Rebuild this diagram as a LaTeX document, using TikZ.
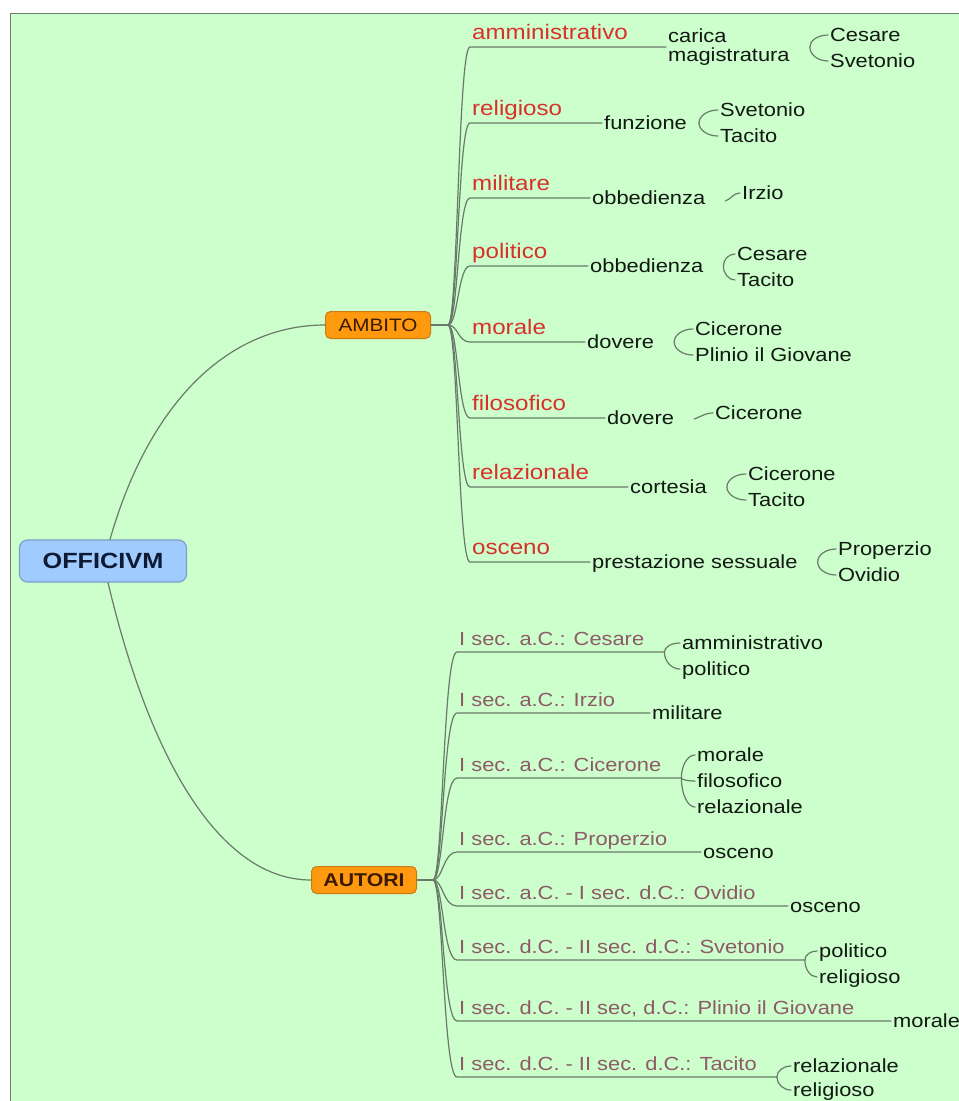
\documentclass[tikz,border=0pt]{standalone}
\usepackage{fontspec}
\usetikzlibrary{calc}
\setmainfont{Liberation Sans}[FakeStretch=1.15]
\definecolor{bgc}{HTML}{CCFFCC}
\definecolor{bordc}{HTML}{6B7F6B}
\definecolor{linec}{HTML}{6A7A6A}
\definecolor{txtc}{HTML}{121812}
\definecolor{redc}{HTML}{D8302A}
\definecolor{autc}{HTML}{8E5A68}
\definecolor{rootf}{HTML}{9FCBFF}
\definecolor{rootd}{HTML}{7F9FC8}
\definecolor{roott}{HTML}{0E1A33}
\definecolor{catf}{HTML}{FF9A10}
\definecolor{catd}{HTML}{CC7A10}
\definecolor{catt}{HTML}{3C1A00}
\newcommand\brk[2]{\draw[conn] (#1) .. controls ($(#1)!0.55!(#1 |- #2)$) and ($(#2)!0.55!(#1 |- #2)$) .. (#2);}
\begin{document}
\begin{tikzpicture}[x=1pt,y=-1pt,
  conn/.style={draw=linec, line width=1.2pt, line cap=round},
  kid/.style={anchor=west, inner xsep=2pt, inner ysep=0pt, text height=13.7pt, text depth=0pt, text=txtc, font=\fontsize{19}{19}\selectfont},
  kidtwo/.style={anchor=west, inner xsep=2pt, inner ysep=0pt, align=left, text=txtc, font=\fontsize{19}{19}\selectfont},
  ambl/.style={anchor=south west, inner xsep=2pt, inner ysep=0pt, text height=15.1pt, text depth=7.5pt, text=redc, font=\fontsize{21}{21}\selectfont},
  autl/.style={anchor=south west, inner xsep=2pt, inner ysep=0pt, text height=13.7pt, text depth=6pt, text=autc, font=\fontsize{19}{19}\selectfont},
  rootbox/.style={rounded corners=8pt, fill=rootf, draw=rootd, line width=1.2pt, minimum width=167pt, minimum height=42pt, inner sep=0pt, text=roott, font=\fontsize{22}{22}\selectfont\bfseries},
  catbox/.style={rounded corners=5pt, fill=catf, draw=catd, line width=1pt, minimum width=105pt, minimum height=27pt, inner sep=0pt, text=catt, font=\fontsize{18}{18}\selectfont}
]
\useasboundingbox (0,0) rectangle (959,1101);
\fill[bgc] (10,13) rectangle (959,1101);
\draw[bordc, line width=1pt] (10.5,1101) -- (10.5,13.5) -- (959,13.5);

% main nodes
\node[rootbox] (root) at (103,561) {OFFICIVM};
\node[catbox] (amb) at (378,325) {AMBITO};
\node[catbox, font=\fontsize{18.5}{18.5}\selectfont\bfseries] (aut) at (364,880) {AUTORI};
\draw[conn] ([xshift=7pt]root.north) .. controls (150,400) and (230,325) .. (amb.west);
\draw[conn] ([xshift=5pt]root.south) .. controls (150,760) and (220,880) .. (aut.west);

% ===== AMBITO =====
\coordinate (ambj) at (448,325);
\draw[conn] (amb.east) -- (ambj);

% 1 amministrativo
\node[ambl] (m1) at (470,47) {amministrativo};
\node[kidtwo] (c1) at (666,47) {carica\\magistratura};
\node[kid] (g11) at (828,35) {Cesare};
\node[kid] (g12) at (828,61) {Svetonio};
\draw[conn] (ambj) .. controls (458,325) and (458,47) .. (m1.south west) -- (c1.west);
\coordinate (b1) at ([xshift=18pt]c1.east);
\brk{b1}{g11.west}
\brk{b1}{g12.west}

% 2 religioso
\node[ambl] (m2) at (470,123) {religioso};
\node[kid] (c2) at (602,123) {funzione};
\node[kid] (g21) at (718,110) {Svetonio};
\node[kid] (g22) at (718,136) {Tacito};
\draw[conn] (ambj) .. controls (458,325) and (458,123) .. (m2.south west) -- (c2.west);
\coordinate (b2) at ([xshift=10pt]c2.east);
\brk{b2}{g21.west}
\brk{b2}{g22.west}

% 3 militare
\node[ambl] (m3) at (470,198) {militare};
\node[kid] (c3) at (590,198) {obbedienza};
\node[kid] (g31) at (740,193) {Irzio};
\draw[conn] (ambj) .. controls (458,325) and (458,198) .. (m3.south west) -- (c3.west);
\coordinate (b3) at ([xshift=18pt,yshift=-3pt]c3.east);
\draw[conn] (b3) to[out=20,in=180] (g31.west);

% 4 politico
\node[ambl] (m4) at (470,266) {politico};
\node[kid] (c4) at (588,266) {obbedienza};
\node[kid] (g41) at (735,254) {Cesare};
\node[kid] (g42) at (735,280) {Tacito};
\draw[conn] (ambj) .. controls (458,325) and (458,266) .. (m4.south west) -- (c4.west);
\coordinate (b4) at ([xshift=18pt]c4.east);
\brk{b4}{g41.west}
\brk{b4}{g42.west}

% 5 morale
\node[ambl] (m5) at (470,342) {morale};
\node[kid] (c5) at (585,342) {dovere};
\node[kid] (g51) at (693,329) {Cicerone};
\node[kid] (g52) at (693,355) {Plinio il Giovane};
\draw[conn] (ambj) .. controls (458,325) and (458,342) .. (m5.south west) -- (c5.west);
\coordinate (b5) at ([xshift=18pt]c5.east);
\brk{b5}{g51.west}
\brk{b5}{g52.west}

% 6 filosofico
\node[ambl] (m6) at (470,418) {filosofico};
\node[kid] (c6) at (605,418) {dovere};
\node[kid] (g61) at (713,413) {Cicerone};
\draw[conn] (ambj) .. controls (458,325) and (458,418) .. (m6.south west) -- (c6.west);
\coordinate (b6) at ([xshift=18pt,yshift=-1pt]c6.east);
\draw[conn] (b6) to[out=20,in=180] (g61.west);

% 7 relazionale
\node[ambl] (m7) at (470,487) {relazionale};
\node[kid] (c7) at (628,487) {cortesia};
\node[kid] (g71) at (746,474) {Cicerone};
\node[kid] (g72) at (746,500) {Tacito};
\draw[conn] (ambj) .. controls (458,325) and (458,487) .. (m7.south west) -- (c7.west);
\coordinate (b7) at ([xshift=18pt]c7.east);
\brk{b7}{g71.west}
\brk{b7}{g72.west}

% 8 osceno
\node[ambl] (m8) at (470,562) {osceno};
\node[kid] (c8) at (590,562) {prestazione sessuale};
\node[kid] (g81) at (836,549) {Properzio};
\node[kid] (g82) at (836,575) {Ovidio};
\draw[conn] (ambj) .. controls (458,325) and (458,562) .. (m8.south west) -- (c8.west);
\coordinate (b8) at ([xshift=18pt]c8.east);
\brk{b8}{g81.west}
\brk{b8}{g82.west}

% ===== AUTORI =====
\coordinate (autj) at (433,880);
\draw[conn] (aut.east) -- (autj);

% 1 Cesare
\node[autl] (a1) at (457,652) {I sec. a.C.: Cesare};
\node[kid] (k11) at (680,643) {amministrativo};
\node[kid] (k12) at (680,669) {politico};
\coordinate (r1) at ([xshift=18pt]a1.south east);
\draw[conn] (autj) .. controls (443,880) and (443,652) .. (a1.south west) -- (r1);
\brk{r1}{k11.west}
\brk{r1}{k12.west}

% 2 Irzio
\node[autl] (a2) at (457,713) {I sec. a.C.: Irzio};
\node[kid] (k21) at (650,713) {militare};
\draw[conn] (autj) .. controls (443,880) and (443,713) .. (a2.south west) -- (k21.west);

% 3 Cicerone
\node[autl] (a3) at (457,778) {I sec. a.C.: Cicerone};
\node[kid] (k31) at (695,755) {morale};
\node[kid] (k32) at (695,781) {filosofico};
\node[kid] (k33) at (695,807) {relazionale};
\coordinate (r3) at ([xshift=18pt]a3.south east);
\draw[conn] (autj) .. controls (443,880) and (443,778) .. (a3.south west) -- (r3);
\brk{r3}{k31.west}
\brk{r3}{k32.west}
\brk{r3}{k33.west}

% 4 Properzio
\node[autl] (a4) at (457,852) {I sec. a.C.: Properzio};
\node[kid] (k41) at (701,852) {osceno};
\draw[conn] (autj) .. controls (443,880) and (443,852) .. (a4.south west) -- (k41.west);

% 5 Ovidio
\node[autl] (a5) at (457,906) {I sec. a.C. - I sec. d.C.: Ovidio};
\node[kid] (k51) at (788,906) {osceno};
\draw[conn] (autj) .. controls (443,880) and (443,906) .. (a5.south west) -- (k51.west);

% 6 Svetonio
\node[autl] (a6) at (457,960) {I sec. d.C. - II sec. d.C.: Svetonio};
\node[kid] (k61) at (817,951) {politico};
\node[kid] (k62) at (817,977) {religioso};
\coordinate (r6) at ([xshift=18pt]a6.south east);
\draw[conn] (autj) .. controls (443,880) and (443,960) .. (a6.south west) -- (r6);
\brk{r6}{k61.west}
\brk{r6}{k62.west}

% 7 Plinio
\node[autl] (a7) at (457,1021) {I sec. d.C. - II sec, d.C.: Plinio il Giovane};
\node[kid] (k71) at (891,1021) {morale};
\draw[conn] (autj) .. controls (443,880) and (443,1021) .. (a7.south west) -- (k71.west);

% 8 Tacito
\node[autl] (a8) at (457,1077) {I sec. d.C. - II sec. d.C.: Tacito};
\node[kid] (k81) at (791,1066) {relazionale};
\node[kid] (k82) at (791,1090) {religioso};
\coordinate (r8) at ([xshift=18pt]a8.south east);
\draw[conn] (autj) .. controls (443,880) and (443,1077) .. (a8.south west) -- (r8);
\brk{r8}{k81.west}
\brk{r8}{k82.west}
\end{tikzpicture}
\end{document}
